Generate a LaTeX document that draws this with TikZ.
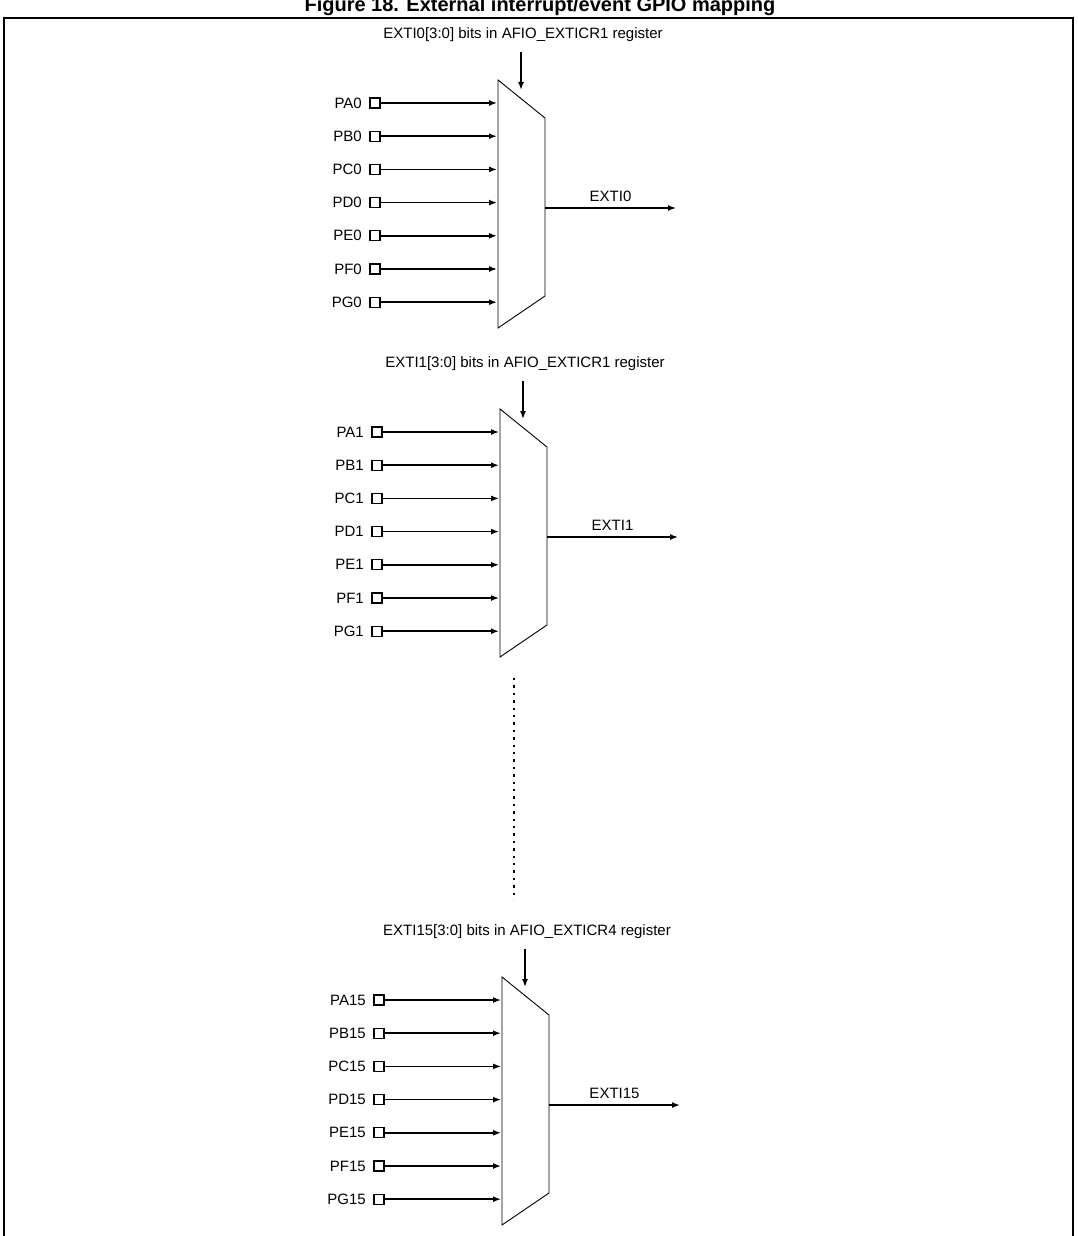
\documentclass[tikz,border=0pt]{standalone}
\usepackage{fontspec}
\usetikzlibrary{arrows.meta}
\setmainfont{Liberation Sans}
\begin{document}
\begin{tikzpicture}[x=1pt,y=-1pt,
    pin/.style={draw,line width=1.3pt,fill=white,minimum size=10pt,inner sep=0pt},
    sig/.style={line width=1.5pt,-{Latex[length=8pt,width=6pt]}},
    lbl/.style={font=\fontsize{15}{16}\selectfont}]
  \useasboundingbox (0,0) rectangle (1077,1236);
  \node[font=\bfseries\fontsize{20}{21}\selectfont,anchor=base] (title) at (540,12) {Figure 18. External interrupt/event GPIO mapping};
  \draw[line width=1.5pt] (4,1240) -- (4,18) -- (1073,18) -- (1073,1240);
  \foreach \dy/\dx/\n/\reg in {0/0/0/1,329/2/1/1,897/4/15/4}{
    \begin{scope}[shift={(\dx,\dy)}]
      \node[lbl] (sel\n) at (523,35) {EXTI\n[3:0] bits in AFIO\_EXTICR\reg{} register};
      \coordinate (s\n) at (521,90);
      \draw[sig] (521,52) -- (s\n);
      \draw[line width=0.9pt] (498,80) coordinate (m\n) -- (545,118) -- (545,296) -- (498,328) -- cycle;
      \foreach \p [count=\i] in {A,B,C,D,E,F,G}{
        \pgfmathsetmacro{\yy}{103+(\i-1)*33.2}
        \node[pin] (p\p\n) at (375,\yy) {};
        \node[lbl,anchor=east] at ([xshift=-4pt]p\p\n.west) {P\p\n};
        \draw[sig] (p\p\n.east) -- (497,\yy);
      }
      \coordinate (o\n) at (676,208);
      \draw[sig] (545,208) -- (o\n) node[lbl,midway,above=2pt] {EXTI\n};
    \end{scope}
  }
  \draw[line width=2.4pt,dash pattern=on 2.4pt off 5pt] (514,678) -- (514,900);
\end{tikzpicture}
\end{document}
